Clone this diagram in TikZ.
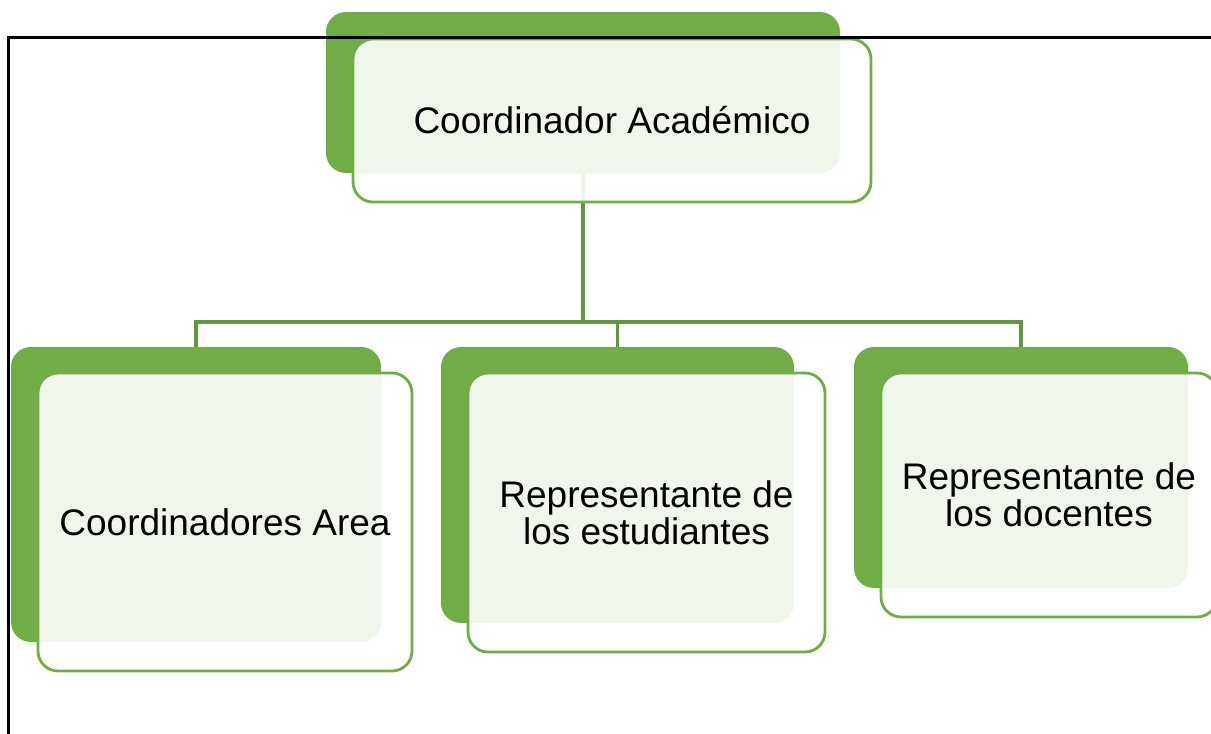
\documentclass[tikz,border=0pt]{standalone}
\usepackage{fontspec}
\setmainfont{Liberation Sans}
\definecolor{gr}{HTML}{70AD47}
\definecolor{conn}{HTML}{5E9C3B}
\tikzset{
  backbox/.style={draw=none, fill=gr, rounded corners=20pt, inner sep=0pt},
  frontbox/.style={draw=gr, line width=2.8pt, fill=white, fill opacity=0.9, text opacity=1,
     rounded corners=20pt, inner sep=0pt, align=center,
     font=\fontsize{37}{37}\selectfont},
  link/.style={draw=conn, line width=3.2pt},
  frameline/.style={draw=black, line width=2.4pt}
}
\begin{document}
\begin{tikzpicture}[x=1pt,y=-1pt]
\useasboundingbox (0,0) rectangle (1211,734);
% back boxes
\node[backbox, minimum width=514pt, minimum height=161pt] (tb) at (583,92.5) {};
\node[backbox, minimum width=370pt, minimum height=295pt] (b1) at (196,494.5) {};
\node[backbox, minimum width=353pt, minimum height=276pt] (b2) at (617.5,485) {};
\node[backbox, minimum width=334pt, minimum height=241pt] (b3) at (1021,467.5) {};
% connectors
\coordinate (bus) at (583,322);
\draw[link] (tb.south) -- (bus);
\draw[link] (bus) -| (b1.north);
\draw[link] (bus) -| (b2.north);
\draw[link] (bus) -| (b3.north);
% front boxes
\node[frontbox, minimum width=518pt, minimum height=163pt] (tf) at (612,120.5) {Coordinador Académico};
\node[frontbox, minimum width=374pt, minimum height=298pt] (f1) at (225,522) {Coordinadores Area};
\node[frontbox, minimum width=357pt, minimum height=279pt] (f2) at (646.5,512.5) {Representante de\\los estudiantes};
\node[frontbox, minimum width=336pt, minimum height=244pt] (f3) at (1049,495) {Representante de\\los docentes};
% frame
\draw[frameline] (8.5,734) -- (8.5,37.5) -- (1212,37.5);
\end{tikzpicture}
\end{document}
